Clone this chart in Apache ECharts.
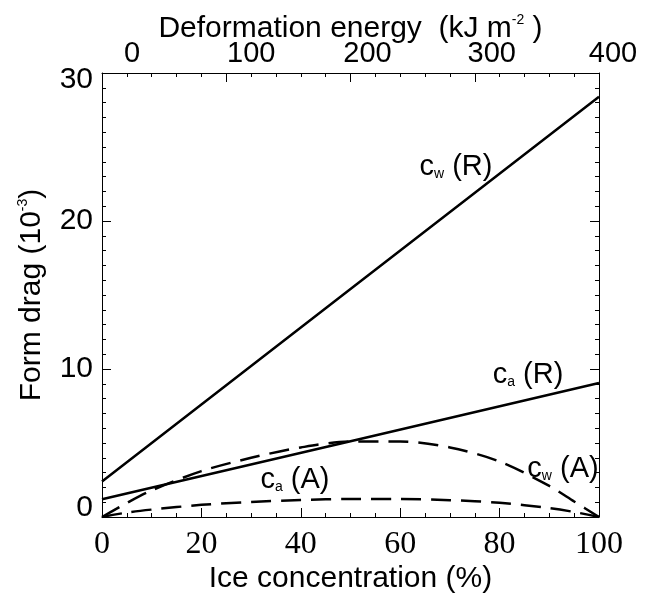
<!DOCTYPE html>
<html><head><meta charset="utf-8">
<script src="https://cdn.jsdelivr.net/npm/echarts@6/dist/echarts.min.js"></script>
<style>html,body{margin:0;padding:0;background:#fff}#c{width:648px;height:600px}</style>
</head><body><div id="c"></div>
<script>
// Ice concentration (%) sample points
const lineX = [0, 50, 100];
const cwR = [2.4, 15.4, 28.4];
const caR = [1.2, 5.12, 9.05];
const curveX = [0, 5, 10, 20, 30, 40, 50, 60, 70, 80, 90, 95, 100];
const cwA = [0, 0.95, 1.8, 3.1, 4.0, 4.7, 5.1, 5.1, 4.7, 3.75, 2.1, 1.05, 0];
const caA = [0, 0.3, 0.5, 0.82, 1.02, 1.15, 1.22, 1.22, 1.14, 0.96, 0.6, 0.34, 0];
const topTickLabels = [0, 100, 200, 300, 400];
const leftTickLabels = [0, 10, 20, 30];

const pairs = (xs, ys) => xs.map((x, i) => [x, ys[i]]);
const SANS = 'Liberation Sans';
const SERIF = 'Liberation Serif';

const chart = echarts.init(document.getElementById('c'), null, {renderer: 'canvas'});

const axisLine = {show: true, onZero: false, lineStyle: {color: '#000', width: 1}};
const axisTick = {show: true, inside: true, length: 9, lineStyle: {color: '#000', width: 1}};
const minor = n => ({show: true, splitNumber: n, length: 4, lineStyle: {color: '#000', width: 1}});

const topPad = {0: 60, 100: 50, 200: 34, 300: 34, 400: 28};
const topRich = {};
topTickLabels.forEach(v => { topRich['t' + v] = {padding: [0, 0, 0, topPad[v]], fontFamily: SANS, fontSize: 29, color: '#000'}; });
const leftPad = {0: [0, 0, 18, 0], 10: [0, 0, 0, 0], 20: [0, 0, 0, 0], 30: [14, 0, 0, 0]};
const leftRich = {};
leftTickLabels.forEach(v => { leftRich['y' + v] = {padding: leftPad[v], fontFamily: SANS, fontSize: 30, color: '#000'}; });

const lineStyleSolid = {color: '#000', width: 2.5, type: 'solid'};
const lineStyleDash = {color: '#000', width: 2.5, type: [20, 10]};
const supRich = {
  n: {fontFamily: SANS, fontSize: 30, color: '#000', lineHeight: 32},
  s: {fontFamily: SANS, fontSize: 14, color: '#000', verticalAlign: 'top', lineHeight: 32}
};

const option = {
  backgroundColor: '#fff',
  animation: false,
  grid: {left: 102, right: 49, top: 73, bottom: 83, outerBoundsMode: 'none', containLabel: false},
  xAxis: [
    {
      type: 'value', position: 'bottom', min: 0, max: 100, interval: 20,
      axisLine: axisLine, axisTick: axisTick, minorTick: minor(4),
      splitLine: {show: false}, minorSplitLine: {show: false},
      axisLabel: {fontFamily: SERIF, fontSize: 32, color: '#000', margin: 12},
      name: 'Ice concentration (%)', nameLocation: 'middle', nameGap: 47, nameMoveOverlap: false,
      nameTextStyle: {fontFamily: SANS, fontSize: 30, color: '#000'}
    },
    {
      type: 'value', position: 'top', min: 0, max: 400, interval: 100,
      axisLine: axisLine, axisTick: axisTick, minorTick: minor(5),
      splitLine: {show: false}, minorSplitLine: {show: false},
      axisLabel: {margin: 5, formatter: v => '{t' + v + '|' + v + '}', rich: topRich, fontFamily: SANS, fontSize: 29, color: '#000'},
      name: '{n|Deformation energy  (kJ m}{s|-2}{n| )}', nameLocation: 'middle', nameGap: 28, nameMoveOverlap: false,
      nameTextStyle: {rich: supRich}
    }
  ],
  yAxis: [
    {
      type: 'value', position: 'left', min: 0, max: 30, interval: 10,
      axisLine: axisLine, axisTick: axisTick, minorTick: minor(10),
      splitLine: {show: false}, minorSplitLine: {show: false},
      axisLabel: {margin: 9, formatter: v => '{y' + v + '|' + v + '}', rich: leftRich, fontFamily: SANS, fontSize: 30, color: '#000'},
      name: '{n|Form drag (10}{s|-3}{n|)}', nameLocation: 'middle', nameGap: 54, nameRotate: 90, nameMoveOverlap: false,
      nameTextStyle: {rich: supRich}
    },
    {
      type: 'value', position: 'right', min: 0, max: 30, interval: 10,
      axisLine: axisLine, axisTick: axisTick, minorTick: minor(10),
      splitLine: {show: false}, minorSplitLine: {show: false},
      axisLabel: {show: false}
    }
  ],
  series: [
    {name: 'cw (R)', type: 'line', data: pairs(lineX, cwR), symbol: 'none', lineStyle: lineStyleSolid, z: 3},
    {name: 'ca (R)', type: 'line', data: pairs(lineX, caR), symbol: 'none', lineStyle: lineStyleSolid, z: 3},
    {name: 'cw (A)', type: 'line', data: pairs(curveX, cwA), symbol: 'none', smooth: 0.3, lineStyle: lineStyleDash, z: 3},
    {name: 'ca (A)', type: 'line', data: pairs(curveX, caA), symbol: 'none', smooth: 0.3, lineStyle: lineStyleDash, z: 3}
  ],
  graphic: []
};

function lab(main, sub, rest, x, y) {
  return {
    type: 'text', x: x, y: y, z: 10,
    style: {
      text: '{c|' + main + '}{s|' + sub + '}{c|' + rest + '}',
      align: 'center', verticalAlign: 'middle',
      rich: {
        c: {fontFamily: SANS, fontSize: 29, color: '#000', lineHeight: 32, verticalAlign: 'bottom'},
        s: {fontFamily: SANS, fontSize: 14, color: '#000', lineHeight: 24, verticalAlign: 'bottom'}
      }
    }
  };
}
option.graphic = [
  lab('c', 'w', ' (R)', 456, 165),
  lab('c', 'a', ' (R)', 528, 373),
  lab('c', 'w', ' (A)', 563, 467),
  lab('c', 'a', ' (A)', 295, 478)
];

chart.setOption(option);
</script>
</body></html>
